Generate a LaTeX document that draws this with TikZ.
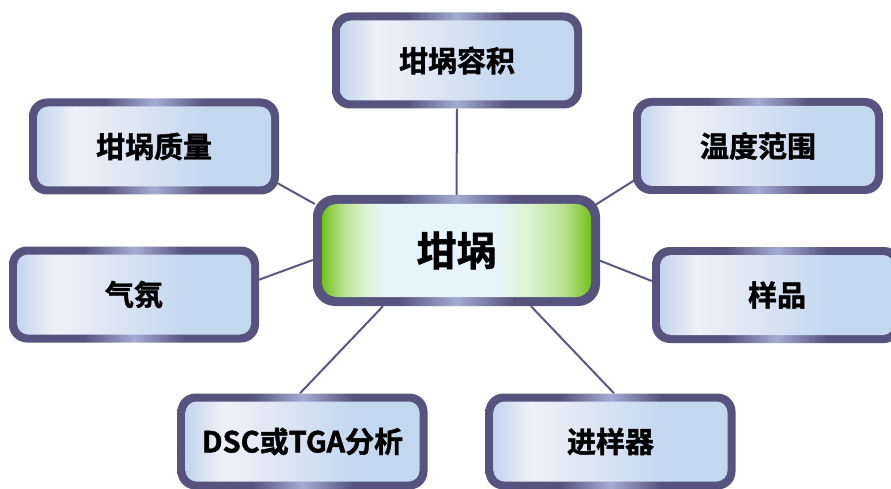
\documentclass[tikz,border=0pt]{standalone}
\usepackage{fontspec}
\newfontfamily\cjk{Noto Sans CJK SC Bold}[RawFeature={embolden=1.5}]
\usetikzlibrary{calc}
\definecolor{bd}{HTML}{56537F}
\definecolor{bdl}{HTML}{A3ACD3}
\definecolor{ib1}{HTML}{C2D4EE}
\definecolor{iw}{HTML}{EFF1F8}
\definecolor{ib2}{HTML}{C3D7EF}
\definecolor{gr}{HTML}{74C11A}
\definecolor{grl}{HTML}{B8E290}
\definecolor{grp}{HTML}{DDF4D4}
\definecolor{cw}{HTML}{E6F5FB}
\definecolor{ln}{HTML}{5A5783}
\pgfdeclarehorizontalshading{borderShade}{100bp}{color(0bp)=(bd); color(25bp)=(bd); color(40bp)=(bd); color(50bp)=(bdl); color(60bp)=(bd); color(75bp)=(bd); color(100bp)=(bd)}
\pgfdeclarehorizontalshading{innerShade}{100bp}{color(0bp)=(ib1); color(25bp)=(ib1); color(33bp)=(iw); color(62bp)=(ib2); color(75bp)=(ib2); color(100bp)=(ib2)}
\pgfdeclarehorizontalshading{centerShade}{100bp}{color(0bp)=(gr); color(25bp)=(gr); color(29bp)=(grl); color(33bp)=(grp); color(37bp)=(cw); color(57bp)=(cw); color(63bp)=(grp); color(70bp)=(grl); color(75bp)=(gr); color(100bp)=(gr)}
\pgfdeclarelayer{bg}
\pgfsetlayers{bg,main}
\tikzset{
  boxbase/.style={rectangle, inner sep=0pt, text=black},
  obox/.style={boxbase, font=\cjk\fontsize{29}{32}\selectfont,
    rounded corners=18pt, minimum width=250pt, minimum height=96pt,
    path picture={
      \shade[shading=borderShade] (path picture bounding box.south west) rectangle (path picture bounding box.north east);
      \shade[shading=innerShade, rounded corners=11pt] ([shift={(8pt,8pt)}]path picture bounding box.south west) rectangle ([shift={(-8pt,-8pt)}]path picture bounding box.north east);
    }},
  cbox/.style={boxbase, font=\cjk\fontsize{40}{44}\selectfont,
    rounded corners=22pt, minimum width=287pt, minimum height=111pt,
    path picture={
      \shade[shading=borderShade] (path picture bounding box.south west) rectangle (path picture bounding box.north east);
      \shade[shading=centerShade, rounded corners=15pt] ([shift={(9pt,9pt)}]path picture bounding box.south west) rectangle ([shift={(-9pt,-9pt)}]path picture bounding box.north east);
    }},
  conn/.style={draw=ln, line width=2pt}
}
\begin{document}
\begin{tikzpicture}[x=1pt, y=-1pt]
\useasboundingbox (0,0) rectangle (891,489);
\node[cbox] (c) at (456.5,250.5) {坩埚};
\node[obox] (vol) at (457,60.5) {坩埚容积};
\node[obox] (mass) at (154,146.5) {坩埚质量};
\node[obox] (temp) at (758,146) {温度范围};
\node[obox] (atm) at (134,294.5) {气氛};
\node[obox] (samp) at (777,295) {样品};
\node[obox] (dsc) at (302.5,441.5) {DSC或TGA分析};
\node[obox] (feed) at (610.5,441.5) {进样器};
\begin{pgfonlayer}{bg}
\draw[conn] (c.north) -- (vol.south);
\draw[conn] ($(c.west)+(2,-46.5)$) -- ($(mass.east)+(-2,36.5)$);
\draw[conn] ($(c.east)+(-5,-45.5)$) -- ($(temp.west)+(2,34)$);
\draw[conn] ($(c.west)+(0,9.5)$) -- ($(atm.east)+(-1,-14.5)$);
\draw[conn] ($(c.east)+(-2,9.5)$) -- ($(samp.west)+(0,-14)$);
\draw[conn] ($(c.south)+(-73.5,0)$) -- ($(dsc.north)+(-2.5,0)$);
\draw[conn] ($(c.south)+(74.5,0)$) -- ($(feed.north)+(3.5,0)$);
\end{pgfonlayer}
\end{tikzpicture}
\end{document}
